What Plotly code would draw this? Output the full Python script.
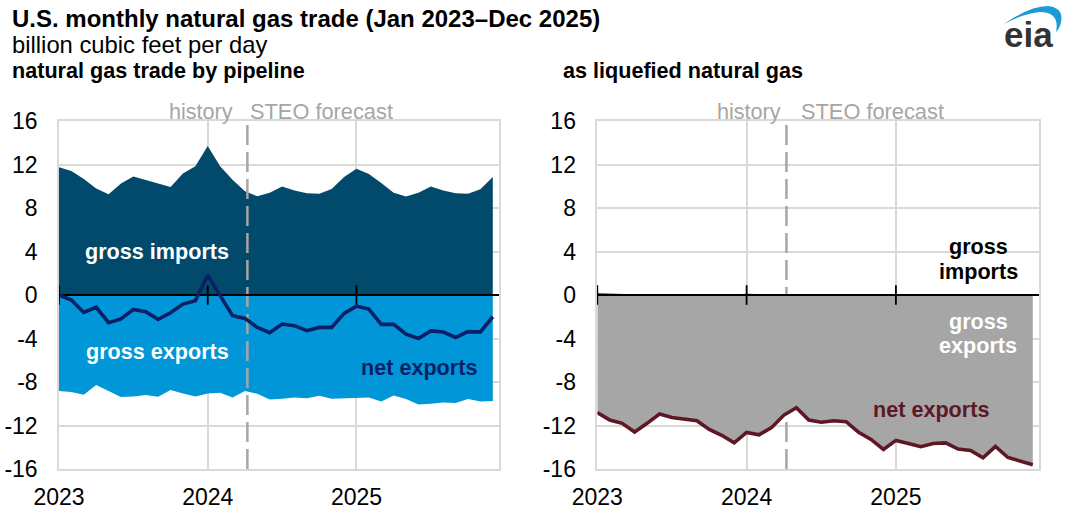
import plotly.graph_objects as go
from plotly.subplots import make_subplots

W, H = 1080, 515

months = list(range(36))
year_ticks = [0, 12, 24]
year_labels = ["2023", "2024", "2025"]
y_ticks = [-16, -12, -8, -4, 0, 4, 8, 12, 16]
y_labels = ["-16", "-12", "-8", "-4", "0", "4", "8", "12", "16"]
forecast_start = 15.2

pipe_imports = [11.75, 11.4, 10.67, 9.8, 9.26, 10.25, 10.9, 10.6, 10.25, 9.94, 11.17, 11.84,
                13.7, 11.84, 10.6, 9.54, 9.08, 9.4, 9.97, 9.6, 9.36, 9.3, 9.75, 10.86,
                11.6, 11.13, 10.3, 9.4, 9.05, 9.4, 9.97, 9.6, 9.36, 9.3, 9.72, 10.86]
pipe_exports = [-8.83, -8.93, -9.17, -8.28, -8.83, -9.39, -9.33, -9.2, -9.36, -8.74, -9.05, -9.33,
                -9.05, -8.99, -9.42, -8.83, -9.08, -9.6, -9.54, -9.42, -9.5, -9.26, -9.54, -9.5,
                -9.5, -9.42, -9.8, -9.23, -9.57, -10.06, -10.0, -9.88, -9.94, -9.57, -9.8, -9.75]
pipe_net = [0, -0.46, -1.6, -1.13, -2.55, -2.2, -1.32, -1.53, -2.24, -1.63, -0.83, -0.52,
            1.8, -0.1, -1.9, -2.15, -2.98, -3.47, -2.67, -2.82, -3.28, -2.98, -2.98, -1.69,
            -1.02, -1.29, -2.7, -2.7, -3.6, -4.0, -3.3, -3.4, -3.9, -3.37, -3.4, -2.0]

lng_imports = [0.15, 0.12, 0.03, 0, 0, 0, 0, 0, 0, 0, 0, 0.05,
               0.12, 0.06, 0.02, 0, 0, 0, 0, 0, 0, 0, 0, 0.04,
               0.1, 0.05, 0.02, 0, 0, 0, 0, 0, 0, 0, 0.02, 0.05]
lng_exports = [-10.8, -11.5, -11.8, -12.6, -11.8, -10.95, -11.26, -11.4, -11.56, -12.36, -12.9, -13.6,
               -12.64, -12.85, -12.2, -11.04, -10.37, -11.5, -11.7, -11.56, -11.65, -12.63, -13.28, -14.2,
               -13.37, -13.65, -13.95, -13.65, -13.6, -14.17, -14.3, -14.97, -13.92, -14.94, -15.25, -15.6]
lng_net = [-10.8, -11.5, -11.8, -12.6, -11.8, -10.95, -11.26, -11.4, -11.56, -12.36, -12.9, -13.6,
           -12.64, -12.85, -12.2, -11.04, -10.37, -11.5, -11.7, -11.56, -11.65, -12.63, -13.28, -14.2,
           -13.37, -13.65, -13.95, -13.65, -13.6, -14.17, -14.3, -14.97, -13.92, -14.94, -15.25, -15.6]

GRID = "#d9d9d9"
GRAY = "#a6a6a6"
FONT = "Liberation Sans"


def px(x):
    return x / W


def py(y):
    return 1 - y / H


def add_panel(fig, col, imports, exports, net, import_color, export_color, net_color):
    fig.add_trace(go.Scatter(x=months, y=imports, mode="lines", line=dict(width=0),
                             fill="tozeroy", fillcolor=import_color), row=1, col=col)
    fig.add_trace(go.Scatter(x=months, y=exports, mode="lines", line=dict(width=0),
                             fill="tozeroy", fillcolor=export_color), row=1, col=col)
    fig.add_trace(go.Scatter(x=[forecast_start, forecast_start], y=[-16, 16], mode="lines",
                             line=dict(color=GRAY, width=2.5, dash="20px,7px")), row=1, col=col)
    fig.add_trace(go.Scatter(x=[0, 35.5], y=[0, 0], mode="lines",
                             line=dict(color="black", width=1.8)), row=1, col=col)
    fig.add_trace(go.Scatter(x=months, y=net, mode="lines", cliponaxis=False,
                             line=dict(color=net_color, width=3.6)), row=1, col=col)
    # year ticks sit on the zero line, not on the bottom of the plot
    fig.add_trace(go.Scatter(x=year_ticks, y=[0, 0, 0], mode="markers", cliponaxis=False,
                             marker=dict(symbol="line-ns", size=14, color="black",
                                         line=dict(color="black", width=1.8))), row=1, col=col)


def annotate(fig, text, x, y, size=21.6, color="black", bold=False, anchor="center"):
    if bold:
        text = "<b>" + text + "</b>"
    # annotations carry about 2px of padding on each side
    pad = {"left": -2, "right": 2, "center": 0}[anchor]
    fig.add_annotation(text=text, x=px(x + pad), y=py(y), xref="paper", yref="paper", showarrow=False,
                       xanchor=anchor, yanchor="middle", font=dict(family=FONT, size=size, color=color))


fig = make_subplots(rows=1, cols=2)
add_panel(fig, 1, pipe_imports, pipe_exports, pipe_net, "#024a6b", "#0096d7", "#0a1f66")
add_panel(fig, 2, lng_imports, lng_exports, lng_net, "#1a1a1a", GRAY, "#5d1725")

fig.update_xaxes(range=[0, 35.5], tickvals=year_ticks, ticktext=year_labels, ticks="", ticklabelstandoff=7,
                 showgrid=True, gridcolor=GRID, gridwidth=1.5, zeroline=False, automargin=False,
                 showline=True, linecolor=GRID, linewidth=1.5, mirror=True,
                 tickfont=dict(family=FONT, size=23, color="black"))
fig.update_yaxes(range=[-16, 16], tickvals=y_ticks, ticktext=y_labels, ticks="", ticklabelstandoff=15,
                 showgrid=True, gridcolor=GRID, gridwidth=1.5, zeroline=False, automargin=False,
                 showline=True, linecolor=GRID, linewidth=1.5, mirror=True,
                 tickfont=dict(family=FONT, size=23, color="black"))

fig.update_layout(
    width=W, height=H, autosize=False, showlegend=False,
    margin=dict(l=0, r=0, t=0, b=0),
    paper_bgcolor="white", plot_bgcolor="white",
    xaxis=dict(domain=[px(59), px(499)]),
    xaxis2=dict(domain=[px(597.3), px(1039)]),
    yaxis=dict(domain=[py(469), py(121)]),
    yaxis2=dict(domain=[py(469), py(121)]),
)

annotate(fig, "U.S. monthly natural gas trade (Jan 2023–Dec 2025)", 12, 18, size=24, bold=True, anchor="left")
annotate(fig, "billion cubic feet per day", 12, 44.5, size=23.8, anchor="left")
annotate(fig, "natural gas trade by pipeline", 12, 70.5, bold=True, anchor="left")
annotate(fig, "as liquefied natural gas", 563, 70.5, bold=True, anchor="left")

annotate(fig, "history", 233, 111, color=GRAY, anchor="right")
annotate(fig, "STEO forecast", 250, 111, color=GRAY, anchor="left", size=21.8)
annotate(fig, "history", 781, 111, color=GRAY, anchor="right")
annotate(fig, "STEO forecast", 801, 111, color=GRAY, anchor="left", size=21.8)

annotate(fig, "gross imports", 157, 252, color="white", bold=True)
annotate(fig, "gross exports", 157, 351, color="white", bold=True)
annotate(fig, "net exports", 419, 367, color="#0a1f66", bold=True)
annotate(fig, "gross", 978, 247, bold=True)
annotate(fig, "imports", 978, 271, bold=True)
annotate(fig, "gross", 978, 321, color="white", bold=True)
annotate(fig, "exports", 978, 345, color="white", bold=True)
annotate(fig, "net exports", 931, 409, color="#5d1725", bold=True)

# eia logo
annotate(fig, "<b>eia</b>", 1028, 35, size=35, color="#333333")
arc = [("M", 1004, 24), ("Q", 1030, 6, 1048, 6), ("Q", 1064, 8, 1061, 22), ("Q", 1060, 28, 1056, 32),
       ("Q", 1060, 12, 1040, 12), ("Q", 1025, 13, 1004, 24)]
path = ""
for seg in arc:
    coords = seg[1:]
    pts = [f"{px(coords[i]):.5f},{py(coords[i + 1]):.5f}" for i in range(0, len(coords), 2)]
    path += seg[0] + " ".join(pts) + " "
fig.add_shape(type="path", path=path + "Z", xref="paper", yref="paper", fillcolor="#1a9ad6", line=dict(width=0))

# the page's default body margin would push the figure off the window
fig.write_html("out.html", config={"displayModeBar": False},
               post_script="document.body.style.margin = '0';")
